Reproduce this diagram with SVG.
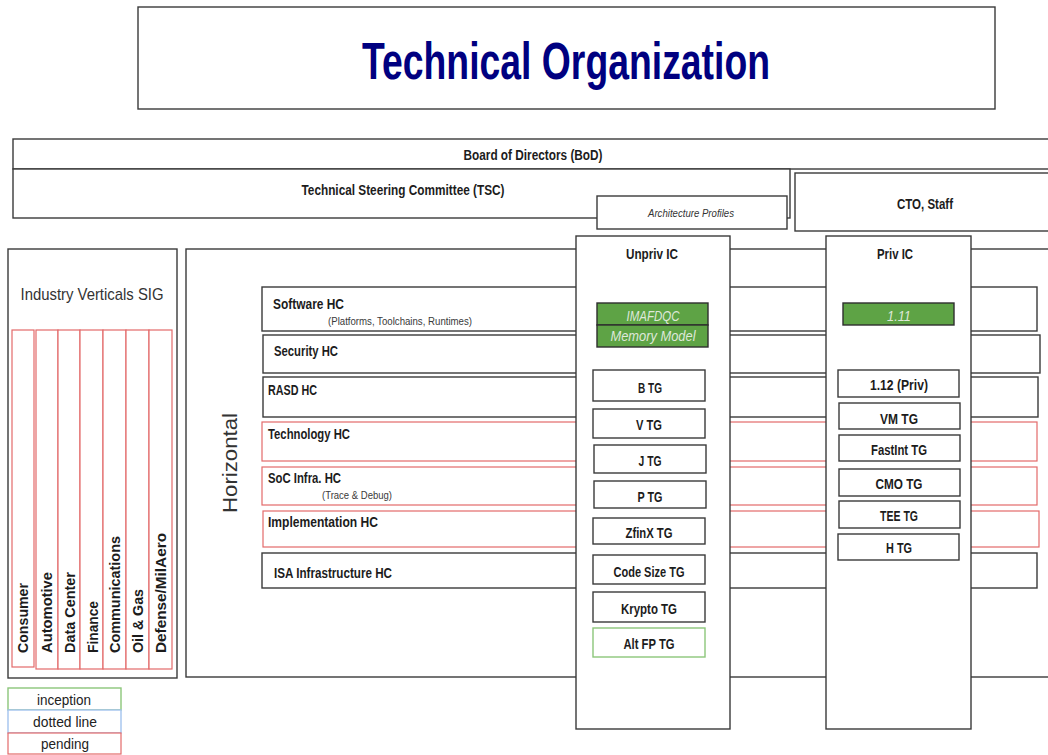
<svg xmlns="http://www.w3.org/2000/svg" width="1048" height="755" viewBox="0 0 1048 755">
  <style>
    .box { fill: #ffffff; stroke: #3a3a3a; stroke-width: 1.4; }
    .pend { fill: #ffffff; stroke: #e36a6a; stroke-width: 1.2; }
    .incep { fill: #ffffff; stroke: #8cc67a; stroke-width: 1.4; }
    .dotl { fill: #ffffff; stroke: #a3c3ee; stroke-width: 1.4; }
    .grn { fill: #5ea345; stroke: #2e2e2e; stroke-width: 1.4; }
    text { font-family: "Liberation Sans", Arial, sans-serif; fill: #1c1c1c; }
    .b { font-weight: bold; font-size: 15px; }
    .c { text-anchor: middle; }
    .sub { font-size: 11px; fill: #3a3a3a; }
    .it { font-style: italic; }
    .gt { font-style: italic; font-size: 14px; fill: #dfe8da; text-anchor: middle; }
    .vl { font-weight: bold; font-size: 14px; }
    .lg { font-size: 14px; text-anchor: middle; fill: #222; }
  </style>

  <!-- title -->
  <g id="title">
    <rect class="box" x="138" y="7" width="857" height="102"/>
    <text x="566" y="79" class="c" style="font-size:52px;font-weight:bold;fill:#000080" textLength="408" lengthAdjust="spacingAndGlyphs">Technical Organization</text>
  </g>

  <!-- governance -->
  <g id="bod">
    <rect class="box" x="13" y="139" width="1100" height="30"/>
    <text x="533" y="160" class="b c" style="font-size:14px" textLength="139" lengthAdjust="spacingAndGlyphs">Board of Directors (BoD)</text>
  </g>
  <g id="tsc">
    <rect class="box" x="13" y="169" width="777" height="49"/>
    <text x="403" y="195" class="b c" style="font-size:14px" textLength="203" lengthAdjust="spacingAndGlyphs">Technical Steering Committee  (TSC)</text>
  </g>
  <g id="arch-profiles">
    <rect class="box" x="597" y="196" width="190" height="33"/>
    <text x="691" y="217" class="it c" style="font-size:11px;fill:#333" textLength="86" lengthAdjust="spacingAndGlyphs">Architecture Profiles</text>
  </g>
  <g id="cto">
    <rect class="box" x="795" y="173" width="300" height="58"/>
    <text x="925" y="209" class="b c" textLength="56" lengthAdjust="spacingAndGlyphs">CTO, Staff</text>
  </g>

  <!-- industry verticals -->
  <g id="industry-verticals">
    <rect class="box" x="8" y="249" width="169" height="429"/>
    <text x="92" y="300" class="c" style="font-size:17px;fill:#333" textLength="143" lengthAdjust="spacingAndGlyphs">Industry Verticals SIG</text>
  </g>
  <g id="consumer">
    <rect class="pend" x="12" y="330" width="22" height="337"/>
    <text class="vl" transform="translate(28,653) rotate(-90)" textLength="70" lengthAdjust="spacingAndGlyphs">Consumer</text>
  </g>
  <g id="automotive">
    <rect class="pend" x="36" y="330" width="22" height="339"/>
    <text class="vl" transform="translate(52,653) rotate(-90)" textLength="81" lengthAdjust="spacingAndGlyphs">Automotive</text>
  </g>
  <g id="data-center">
    <rect class="pend" x="58" y="330" width="22" height="339"/>
    <text class="vl" transform="translate(75,653) rotate(-90)" textLength="81" lengthAdjust="spacingAndGlyphs">Data Center</text>
  </g>
  <g id="finance">
    <rect class="pend" x="80" y="330" width="23" height="339"/>
    <text class="vl" transform="translate(98,653) rotate(-90)" textLength="52" lengthAdjust="spacingAndGlyphs">Finance</text>
  </g>
  <g id="communications">
    <rect class="pend" x="103" y="330" width="23" height="339"/>
    <text class="vl" transform="translate(120,653) rotate(-90)" textLength="117" lengthAdjust="spacingAndGlyphs">Communications</text>
  </g>
  <g id="oil-gas">
    <rect class="pend" x="126" y="330" width="23" height="339"/>
    <text class="vl" transform="translate(143,653) rotate(-90)" textLength="64" lengthAdjust="spacingAndGlyphs">Oil &amp; Gas</text>
  </g>
  <g id="defense">
    <rect class="pend" x="149" y="330" width="23" height="339"/>
    <text class="vl" transform="translate(166,653) rotate(-90)" textLength="120" lengthAdjust="spacingAndGlyphs">Defense/MilAero</text>
  </g>

  <!-- legend -->
  <g id="legend">
    <rect class="incep" x="8" y="688" width="113" height="22"/>
    <rect class="dotl" x="8" y="710" width="113" height="23"/>
    <rect class="pend" x="8" y="733" width="113" height="21"/>
    <text x="64" y="705" class="lg" textLength="54" lengthAdjust="spacingAndGlyphs">inception</text>
    <text x="65" y="727" class="lg" textLength="64" lengthAdjust="spacingAndGlyphs">dotted line</text>
    <text x="65" y="749" class="lg" textLength="48" lengthAdjust="spacingAndGlyphs">pending</text>
  </g>

  <!-- horizontal committees -->
  <g id="horizontal">
    <rect class="box" x="186" y="249" width="920" height="428"/>
    <text transform="translate(237,463) rotate(-90)" class="c" style="font-size:20px;fill:#333" textLength="100" lengthAdjust="spacingAndGlyphs">Horizontal</text>
  </g>
  <g id="software-hc">
    <rect class="box" x="262" y="287" width="775" height="44"/>
    <text x="273" y="309" class="b" textLength="71" lengthAdjust="spacingAndGlyphs">Software HC</text>
    <text x="328" y="325" class="sub" textLength="144" lengthAdjust="spacingAndGlyphs">(Platforms, Toolchains, Runtimes)</text>
  </g>
  <g id="security-hc">
    <rect class="box" x="263" y="335" width="777" height="38"/>
    <text x="274" y="356" class="b" textLength="64" lengthAdjust="spacingAndGlyphs">Security HC</text>
  </g>
  <g id="rasd-hc">
    <rect class="box" x="263" y="377" width="775" height="40"/>
    <text x="268" y="395" class="b" textLength="49" lengthAdjust="spacingAndGlyphs">RASD HC</text>
  </g>
  <g id="technology-hc">
    <rect class="pend" x="262" y="422" width="775" height="39"/>
    <text x="268" y="439" class="b" textLength="82" lengthAdjust="spacingAndGlyphs">Technology HC</text>
  </g>
  <g id="soc-infra-hc">
    <rect class="pend" x="262" y="467" width="775" height="38"/>
    <text x="268" y="483" class="b" textLength="73" lengthAdjust="spacingAndGlyphs">SoC Infra. HC</text>
    <text x="322" y="499" class="sub" textLength="70" lengthAdjust="spacingAndGlyphs">(Trace &amp; Debug)</text>
  </g>
  <g id="implementation-hc">
    <rect class="pend" x="263" y="511" width="776" height="36"/>
    <text x="268" y="527" class="b" textLength="110" lengthAdjust="spacingAndGlyphs">Implementation HC</text>
  </g>
  <g id="isa-infra-hc">
    <rect class="box" x="262" y="553" width="775" height="35"/>
    <text x="274" y="578" class="b" textLength="118" lengthAdjust="spacingAndGlyphs">ISA Infrastructure HC</text>
  </g>

  <!-- unprivileged ISA committee -->
  <g id="unpriv-ic">
    <rect class="box" x="576" y="236" width="154" height="493"/>
    <text x="652" y="259" class="b c" textLength="52" lengthAdjust="spacingAndGlyphs">Unpriv IC</text>
  </g>
  <g id="imafdqc">
    <rect class="grn" x="597" y="303" width="111" height="22"/>
    <text x="653" y="321" class="gt" textLength="53" lengthAdjust="spacingAndGlyphs">IMAFDQC</text>
  </g>
  <g id="memory-model">
    <rect class="grn" x="597" y="325" width="111" height="22"/>
    <text x="653" y="341" class="gt" textLength="85" lengthAdjust="spacingAndGlyphs">Memory Model</text>
  </g>
  <g id="b-tg">
    <rect class="box" x="593" y="370" width="112" height="31"/>
    <text x="650" y="393" class="b c" textLength="24" lengthAdjust="spacingAndGlyphs">B TG</text>
  </g>
  <g id="v-tg">
    <rect class="box" x="593" y="409" width="112" height="29"/>
    <text x="649" y="430" class="b c" textLength="26" lengthAdjust="spacingAndGlyphs">V TG</text>
  </g>
  <g id="j-tg">
    <rect class="box" x="594" y="445" width="112" height="28"/>
    <text x="650" y="466" class="b c" textLength="23" lengthAdjust="spacingAndGlyphs">J TG</text>
  </g>
  <g id="p-tg">
    <rect class="box" x="594" y="481" width="112" height="27"/>
    <text x="650" y="502" class="b c" textLength="25" lengthAdjust="spacingAndGlyphs">P TG</text>
  </g>
  <g id="zfinx-tg">
    <rect class="box" x="593" y="518" width="112" height="26"/>
    <text x="649" y="538" class="b c" textLength="47" lengthAdjust="spacingAndGlyphs">ZfinX TG</text>
  </g>
  <g id="code-size-tg">
    <rect class="box" x="593" y="555" width="112" height="29"/>
    <text x="649" y="577" class="b c" textLength="71" lengthAdjust="spacingAndGlyphs">Code Size TG</text>
  </g>
  <g id="krypto-tg">
    <rect class="box" x="593" y="592" width="112" height="30"/>
    <text x="649" y="614" class="b c" textLength="56" lengthAdjust="spacingAndGlyphs">Krypto TG</text>
  </g>
  <g id="alt-fp-tg">
    <rect class="incep" x="593" y="628" width="112" height="29"/>
    <text x="649" y="649" class="b c" textLength="51" lengthAdjust="spacingAndGlyphs">Alt FP TG</text>
  </g>

  <!-- privileged ISA committee -->
  <g id="priv-ic">
    <rect class="box" x="826" y="236" width="145" height="493"/>
    <text x="895" y="259" class="b c" textLength="36" lengthAdjust="spacingAndGlyphs">Priv IC</text>
  </g>
  <g id="priv-1-11">
    <rect class="grn" x="843" y="303" width="111" height="22"/>
    <text x="899" y="321" class="gt" textLength="24" lengthAdjust="spacingAndGlyphs">1.11</text>
  </g>
  <g id="priv-1-12">
    <rect class="box" x="838" y="370" width="121" height="27"/>
    <text x="899" y="390" class="b c" textLength="58" lengthAdjust="spacingAndGlyphs">1.12 (Priv)</text>
  </g>
  <g id="vm-tg">
    <rect class="box" x="839" y="403" width="121" height="26"/>
    <text x="899" y="424" class="b c" textLength="38" lengthAdjust="spacingAndGlyphs">VM TG</text>
  </g>
  <g id="fastint-tg">
    <rect class="box" x="839" y="435" width="121" height="26"/>
    <text x="899" y="455" class="b c" textLength="56" lengthAdjust="spacingAndGlyphs">FastInt TG</text>
  </g>
  <g id="cmo-tg">
    <rect class="box" x="839" y="469" width="121" height="27"/>
    <text x="899" y="489" class="b c" textLength="47" lengthAdjust="spacingAndGlyphs">CMO TG</text>
  </g>
  <g id="tee-tg">
    <rect class="box" x="839" y="501" width="121" height="27"/>
    <text x="899" y="521" class="b c" textLength="38" lengthAdjust="spacingAndGlyphs">TEE TG</text>
  </g>
  <g id="h-tg">
    <rect class="box" x="838" y="534" width="121" height="26"/>
    <text x="899" y="553" class="b c" textLength="26" lengthAdjust="spacingAndGlyphs">H TG</text>
  </g>

  <!-- no connectors in this chart -->
  <g id="connectors"/>
</svg>
